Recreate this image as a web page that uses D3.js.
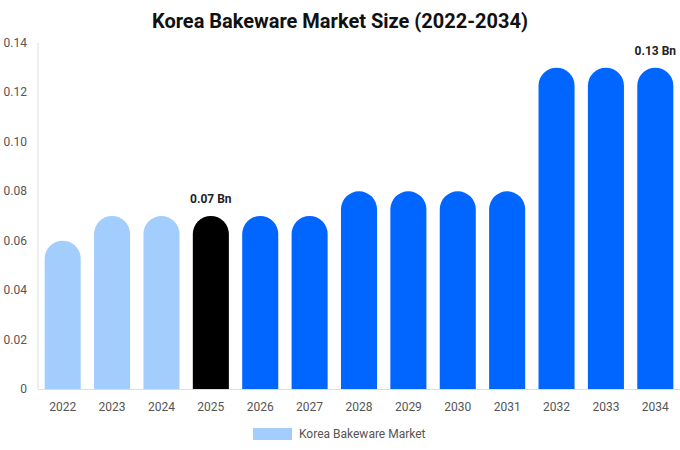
<!DOCTYPE html>
<html><head><meta charset="utf-8">
<script src="https://cdn.jsdelivr.net/npm/d3@7/dist/d3.min.js"></script>
<style>body{margin:0;background:#fff;font-family:Roboto,"Liberation Sans",Arial,sans-serif}</style>
</head><body><svg id="c" width="680" height="450"></svg>
<script>
const years=["2022","2023","2024","2025","2026","2027","2028","2029","2030","2031","2032","2033","2034"];
const values=[0.06,0.07,0.07,0.07,0.07,0.07,0.08,0.08,0.08,0.08,0.13,0.13,0.13];
const yTicks=[0,0.02,0.04,0.06,0.08,0.10,0.12,0.14];
const tickLabels=["0","0.02","0.04","0.06","0.08","0.10","0.12","0.14"];
const annotations={"2025":"0.07 Bn","2034":"0.13 Bn"};
const svg=d3.select("#c");
const x=d3.scaleBand().domain(years).range([38,680]).paddingInner(0.27).paddingOuter(0.135);
const y=d3.scaleLinear().domain([0,0.14]).range([389,43]);
svg.append("text").attr("x",340).attr("y",28).attr("text-anchor","middle").attr("font-size",20).attr("font-weight","bold").attr("fill","#111").text("Korea Bakeware Market Size (2022-2034)");
svg.append("line").attr("x1",38).attr("x2",38).attr("y1",43).attr("y2",389).attr("stroke","#ddd");
svg.append("line").attr("x1",38).attr("x2",680).attr("y1",389.5).attr("y2",389.5).attr("stroke","#ddd");
yTicks.forEach((t,i)=>svg.append("text").attr("x",27).attr("y",y(t)+4).attr("text-anchor","end").attr("font-size",12).attr("fill","#555").text(tickLabels[i]));
years.forEach(yr=>svg.append("text").attr("x",x(yr)+x.bandwidth()/2).attr("y",411).attr("text-anchor","middle").attr("font-size",12).attr("fill","#555").text(yr));
const color=(i)=>i<3?"#a3cdfd":(i===3?"#000":"#0066ff");
years.forEach((yr,i)=>{
  const bx=x(yr),w=x.bandwidth(),top=y(values[i]),bot=y(0),r=w/2;
  svg.append("path").attr("fill",color(i)).attr("d",`M${bx},${bot}L${bx},${top+r}A${r},${r} 0 0 1 ${bx+w},${top+r}L${bx+w},${bot}Z`);
  if(annotations[yr]) svg.append("text").attr("x",bx+w/2).attr("y",top-13).attr("text-anchor","middle").attr("font-size",12).attr("font-weight","bold").attr("fill","#222").text(annotations[yr]);
});
svg.append("rect").attr("x",253).attr("y",428).attr("width",39).attr("height",12).attr("fill","#a3cdfd");
svg.append("text").attr("x",299).attr("y",437.5).attr("font-size",12).attr("fill","#555").text("Korea Bakeware Market");
</script></body></html>
